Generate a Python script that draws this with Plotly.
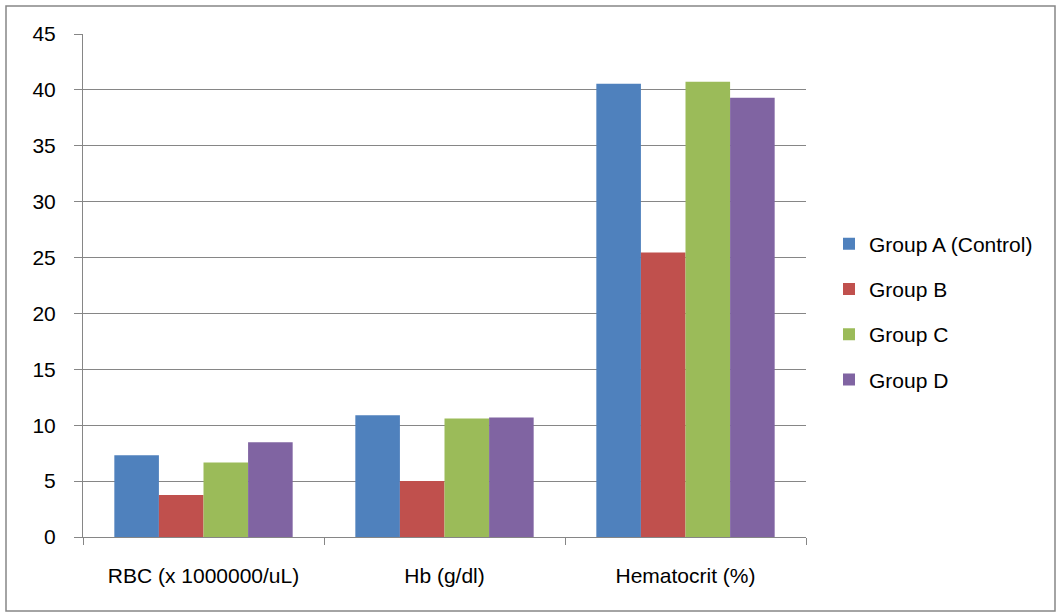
import plotly.graph_objects as go

categories = ["RBC (x 1000000/uL)", "Hb (g/dl)", "Hematocrit (%)"]
groups = ["Group A (Control)", "Group B", "Group C", "Group D"]
group_a = [7.32, 10.9, 40.55]
group_b = [3.75, 5.0, 25.45]
group_c = [6.66, 10.6, 40.73]
group_d = [8.48, 10.7, 39.3]
series = [group_a, group_b, group_c, group_d]
colors = ["#4F81BD", "#C0504D", "#9BBB59", "#8064A2"]
y_ticks = [0, 5, 10, 15, 20, 25, 30, 35, 40, 45]

FONT = "Liberation Sans, Arial, sans-serif"

fig = go.Figure()
for name, vals, col in zip(groups, series, colors):
    fig.add_trace(go.Bar(
        x=categories, y=vals, name=name, legendgroup=name,
        marker=dict(color=col, line=dict(width=0)),
    ))

L, R, T, B = 83, 253, 34, 76
W, H = 1059, 613
pw, ph = W - L - R, H - T - B

fig.update_layout(
    width=W, height=H,
    margin=dict(l=L, r=R, t=T, b=B),
    paper_bgcolor="white", plot_bgcolor="white",
    barmode="group", bargap=0.26, bargroupgap=0,
    font=dict(family=FONT, size=21, color="#000000"),
    showlegend=True,
    legend=dict(
        x=(829 - L) / pw, y=(537 - 312) / ph, xanchor="left", yanchor="middle",
        font=dict(family=FONT, size=21, color="#000000"),
        tracegroupgap=15, itemwidth=30, bgcolor="rgba(0,0,0,0)",
    ),
    xaxis=dict(
        type="category", tickson="boundaries", ticks="outside", ticklen=7,
        tickcolor="#868686", showline=True, linecolor="#868686", linewidth=1,
        showgrid=False, tickfont=dict(family=FONT, size=21), ticklabelstandoff=20,
    ),
    yaxis=dict(
        range=[0, 45], tickvals=y_ticks, ticks="outside", ticklen=8,
        tickcolor="#868686", showline=True, linecolor="#868686", linewidth=1,
        showgrid=True, gridcolor="#868686", gridwidth=1, zeroline=False,
        tickfont=dict(family=FONT, size=21), ticklabelstandoff=14,
    ),
    shapes=[dict(
        type="rect", xref="paper", yref="paper",
        x0=(6 - L) / pw, x1=(1055 - L) / pw,
        y0=(537 - 611) / ph, y1=(537 - 6) / ph,
        line=dict(color="#868686", width=1.5), fillcolor="rgba(0,0,0,0)",
        layer="below",
    )],
)

fig.write_html("out.html")
